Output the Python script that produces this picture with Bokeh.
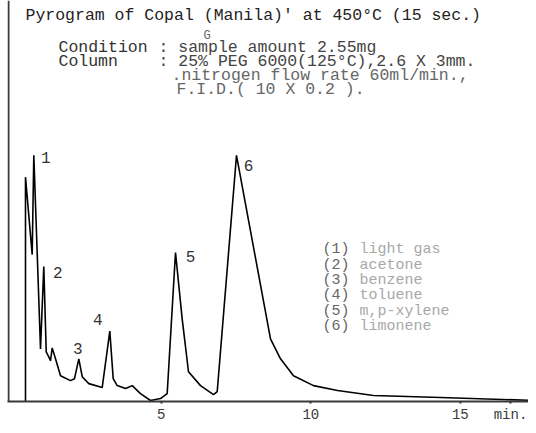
from bokeh.plotting import figure
from bokeh.models import Range1d, Span, Label, ColumnDataSource, FixedTicker
from bokeh.core.properties import value
from bokeh.embed import file_html
from bokeh.resources import INLINE

# ---------------- data ----------------
time_min = [0.458, 0.458, 0.682, 0.736, 0.960, 1.070, 1.151, 1.237, 1.294, 1.351,
            1.462, 1.629, 1.963, 2.097, 2.241, 2.355, 2.575, 3.023, 3.278, 3.391,
            3.525, 3.803, 4.027, 4.304, 4.639, 4.973, 5.197, 5.475, 5.699, 5.910,
            6.311, 6.746, 6.870, 7.515, 8.652, 8.987, 9.421, 10.090, 10.893,
            12.097, 14.338, 17.549]
response = [0.0, 90.4, 59.2, 99.2, 21.2, 54.4, 20.0, 18.0, 16.4, 21.6,
            17.2, 10.4, 8.4, 9.2, 17.2, 10.0, 7.2, 5.6, 28.4, 9.2,
            6.4, 5.2, 6.4, 3.2, 0.4, 1.2, 3.2, 60.0, 33.2, 12.0,
            6.4, 2.8, 4.0, 99.2, 25.2, 17.2, 10.4, 6.4, 4.4,
            2.4, 1.6, 0.4]

peak_ids = ["1", "2", "3", "4", "5", "6"]
peak_time = [0.736, 1.070, 2.241, 3.278, 5.475, 7.515]
peak_height = [99.2, 54.4, 17.2, 28.4, 60.0, 99.2]

legend_nums = ["(1)", "(2)", "(3)", "(4)", "(5)", "(6)"]
legend_names = ["light gas", "acetone", "benzene", "toluene", "m,p-xylene", "limonene"]

x_ticks = [5, 10, 15]
x_unit = "min."

title_text = "Pyrogram of Copal (Manila)' at 450\u00b0C (15 sec.)"
cond_labels = ["Condition", "Column"]
cond_values = ["sample amount 2.55mg", "25% PEG 6000(125\u00b0C),2.6 X 3mm."]
extra_lines = [".nitrogen flow rate 60ml/min.,", "F.I.D.( 10 X 0.2 )."]

# ---------------- geometry helpers (page pixels -> data) ----------------
PX_PER_MIN = 29.9
X0_PAGE = 11.3      # page x of t = 0
BASE_PAGE = 404.0   # page y of the baseline
PX_PER_UNIT = 2.5


def dx(px):
    return (px - X0_PAGE) / PX_PER_MIN


def dy(py):
    return (BASE_PAGE - py) / PX_PER_UNIT


W, H = 528, 425
LEFT = 7
p = figure(width=W, height=H, output_backend="svg", toolbar_location=None,
           x_range=Range1d(dx(LEFT), dx(W)), y_range=Range1d(0, dy(0)),
           min_border_left=LEFT, min_border_right=0, min_border_top=0,
           min_border_bottom=H - int(BASE_PAGE))
p.outline_line_color = None
p.grid.visible = False
p.background_fill_color = "white"
p.border_fill_color = "white"
p.yaxis.visible = False

mono = value("Liberation Mono")

# x axis along the baseline; the unit "min." sits as a label after the last tick
unit_pos = round(dx(510), 2)
ax = p.xaxis[0]
ax.ticker = FixedTicker(ticks=x_ticks + [unit_pos])
ax.major_label_overrides = {unit_pos: x_unit}
ax.axis_line_width = 2
ax.axis_line_color = "#3a3a3a"
ax.major_tick_in = 0
ax.major_tick_out = 2
ax.major_tick_line_width = 2
ax.major_tick_line_color = "#333333"
ax.minor_tick_line_color = None
ax.major_label_text_font = "Liberation Mono"
ax.major_label_text_font_size = "14px"
ax.major_label_text_color = "#3a3a3a"
ax.major_label_standoff = 3

# left frame line
p.add_layout(Span(location=dx(LEFT + 1), dimension="height",
                  line_color="#3a3a3a", line_width=2))

# trace
p.line(time_min, response, line_color="black", line_width=1.6)

# peak numbers
src = ColumnDataSource(dict(x=peak_time, y=peak_height, t=peak_ids,
                            xo=[12, 14, -1, -12, 15, 12], yo=[2, 6, -10, -12, 4, 10]))
p.text(x="x", y="y", text="t", x_offset="xo", y_offset="yo", source=src,
       text_font=mono, text_font_size="16px", text_color="#333333",
       text_baseline="middle", text_align="center")

TF = "16.5px"
# title & conditions
p.add_layout(Label(x=dx(25), y=dy(15), text=title_text, text_font="Liberation Mono",
                   text_font_size=TF, text_color="#222222", text_baseline="middle"))
p.add_layout(Label(x=dx(203), y=dy(36), text="G", text_font="Liberation Mono",
                   text_font_size="12px", text_color="#666666", text_baseline="middle"))
row_y = [47, 61]
for lab, val, yy in zip(cond_labels, cond_values, row_y):
    p.add_layout(Label(x=dx(58), y=dy(yy), text=lab, text_font="Liberation Mono",
                       text_font_size=TF, text_color="#333333", text_baseline="middle"))
    p.add_layout(Label(x=dx(158), y=dy(yy), text=": " + val, text_font="Liberation Mono",
                       text_font_size=TF, text_color="#444444", text_baseline="middle"))
for txt, xx, yy in zip(extra_lines, [171, 176], [76, 90]):
    p.add_layout(Label(x=dx(xx), y=dy(yy), text=txt, text_font="Liberation Mono",
                       text_font_size=TF, text_color="#666666", text_baseline="middle"))

# legend of peaks
for i, (n, name) in enumerate(zip(legend_nums, legend_names)):
    yy = 251 + 15.5 * i
    p.add_layout(Label(x=dx(322), y=dy(yy), text=n, text_font="Liberation Mono",
                       text_font_size="15px", text_color="#666666", text_baseline="middle"))
    p.add_layout(Label(x=dx(359), y=dy(yy), text=name, text_font="Liberation Mono",
                       text_font_size="15px", text_color="#a8a8a8", text_baseline="middle"))

open("out.html", "w").write(file_html(p, INLINE))
